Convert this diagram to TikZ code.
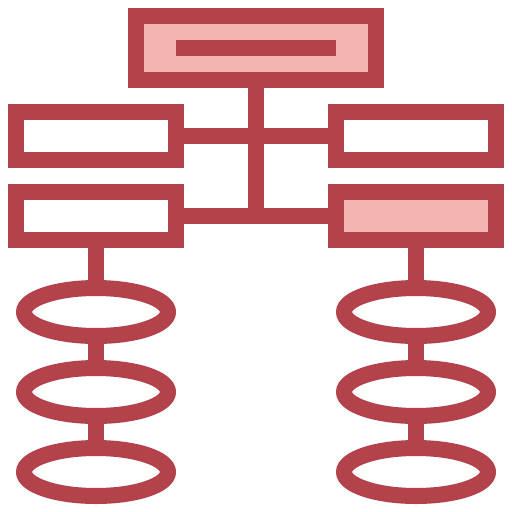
\documentclass[tikz,border=0pt]{standalone}
\usetikzlibrary{shapes.geometric}
\definecolor{ink}{HTML}{B3424B}
\definecolor{pinkfill}{HTML}{F4B5B1}
\begin{document}
\begin{tikzpicture}[x=1pt,y=-1pt,
  boxshape/.style={draw=ink,line width=16pt,rectangle,inner sep=0pt,outer sep=0pt,line join=miter},
  ringshape/.style={draw=ink,line width=16pt,ellipse,inner sep=0pt,outer sep=0pt,minimum width=144pt,minimum height=48pt},
  link/.style={draw=ink,line width=16pt,line cap=butt}]
\useasboundingbox (0,0) rectangle (512,512);
% connectors first (behind)
\coordinate (hub) at (256,224);
\node[boxshape,fill=pinkfill,minimum width=240pt,minimum height=64pt] (top) at (256,48) {};
\node[boxshape,fill=white,minimum width=160pt,minimum height=48pt] (l1) at (96,136) {};
\node[boxshape,fill=white,minimum width=160pt,minimum height=48pt] (l2) at (96,216) {};
\node[boxshape,fill=white,minimum width=160pt,minimum height=48pt] (r1) at (416,136) {};
\node[boxshape,fill=pinkfill,minimum width=160pt,minimum height=48pt] (r2) at (416,216) {};
\node[fill=ink,inner sep=0pt,minimum width=160pt,minimum height=16pt] (bar) at (256,48) {};
\node[ringshape] (le1) at (96,312) {};
\node[ringshape] (le2) at (96,392) {};
\node[ringshape] (le3) at (96,472) {};
\node[ringshape] (re1) at (416,312) {};
\node[ringshape] (re2) at (416,392) {};
\node[ringshape] (re3) at (416,472) {};
\draw[link] (top.south) -- (hub);
\draw[link] (l1.east) -- (r1.west);
\draw[link] (l2.east) -- (r2.west);
\draw[link] (l2.south) -- (le1.north);
\draw[link] (le1.south) -- (le2.north);
\draw[link] (le2.south) -- (le3.north);
\draw[link] (r2.south) -- (re1.north);
\draw[link] (re1.south) -- (re2.north);
\draw[link] (re2.south) -- (re3.north);
\end{tikzpicture}
\end{document}
